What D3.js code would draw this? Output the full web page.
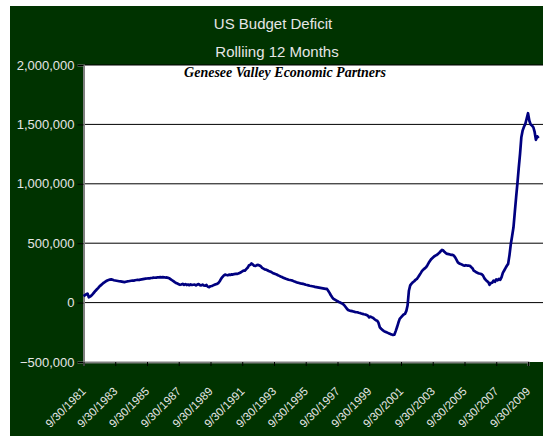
<!DOCTYPE html>
<html>
<head>
<meta charset="utf-8">
<script src="https://cdn.jsdelivr.net/npm/d3@7"></script>
<style>
  body { margin: 0; background: #fff; }
  svg { display: block; font-family: "Liberation Sans", Arial, sans-serif; }
</style>
</head>
<body>
<div id="chart"></div>
<script>
let chart_width = 543;
let chart_height = 436;

// rolling 12 month deficit, $ billions, one value per month starting Sep 1981
let startYear = 1981;
let startMonth = 8; // september
let deficitBillions = [
  55, 62, 70, 76, 45, 50, 60, 72, 85, 98, 110, 122,
  135, 145, 155, 165, 172, 180, 186, 190, 194, 196, 192, 188,
  186, 184, 182, 180, 178, 176, 174, 172, 175, 178, 180, 182,
  184, 186, 185, 188, 190, 192, 190, 194, 196, 198, 200, 202,
  203, 205, 204, 207, 208, 210, 209, 211, 212, 213, 214, 212,
  214, 213, 211, 212, 208, 204, 196, 188, 180, 172, 165, 160,
  155, 150, 152, 158, 150, 156, 148, 152, 146, 153, 148, 150,
  152, 145, 152, 156, 147, 145, 151, 144, 142, 148, 133, 130,
  138, 140, 145, 150, 155, 158, 165, 180, 200, 215, 228, 236,
  232, 230, 235, 233, 238, 236, 240, 242, 241, 245, 250, 255,
  262, 270, 268, 282, 293, 312, 318, 330, 320, 310, 308, 316,
  318, 312, 306, 292, 286, 280, 278, 272, 266, 262, 257, 250,
  245, 240, 236, 230, 225, 220, 215, 210, 205, 200, 196, 192,
  190, 188, 185, 180, 176, 172, 168, 165, 162, 160, 158, 155,
  150, 148, 145, 142, 140, 138, 135, 132, 130, 128, 126, 124,
  122, 120, 118, 116, 115, 100, 82, 62, 45, 32, 25, 18,
  12, 5, 0, -5, -11, -20, -35, -50, -62, -66, -70, -72,
  -75, -78, -80, -81, -85, -88, -92, -95, -98, -100, -105, -110,
  -125, -118, -124, -130, -140, -148, -152, -170, -208, -220, -230, -240,
  -245, -250, -255, -260, -265, -268, -272, -270, -240, -208, -170, -137,
  -125, -112, -100, -95, -70, -25, 100, 145, 160, 171, 180, 192,
  199, 215, 232, 250, 269, 278, 288, 297, 315, 335, 352, 368,
  378, 388, 395, 401, 410, 420, 432, 444, 438, 425, 415, 410,
  408, 405, 402, 401, 395, 380, 360, 339, 330, 326, 320, 315,
  311, 315, 312, 311, 310, 300, 290, 269, 262, 255, 250, 245,
  243, 238, 228, 205, 192, 180, 172, 150, 165, 168, 185, 175,
  195, 188, 200, 192, 215, 250, 270, 290, 310, 326, 400, 494,
  560, 634, 760, 887, 1010, 1130, 1252, 1392, 1450, 1480, 1504, 1550,
  1594, 1530, 1500, 1490, 1476, 1440, 1370, 1400, 1385
];

// axis labels
let xTickYears = [1981, 1983, 1985, 1987, 1989, 1991, 1993, 1995, 1997, 1999, 2001, 2003, 2005, 2007, 2009];
let yTicks = [-500000, 0, 500000, 1000000, 1500000, 2000000];
let titleLines = ["US Budget Deficit", "Rolliing 12 Months"];
let watermark = "Genesee Valley Economic Partners";

// month end dates, values in $ millions like the original axis
let data = deficitBillions.map(function (v, i) {
  return { date: new Date(startYear, startMonth + i + 1, 0), value: v * 1000 };
});

let plot = { left: 83.5, top: 65, right: 545, bottom: 362 };

let svg = d3
  .select("#chart")
  .append("svg")
  .attr("width", chart_width)
  .attr("height", chart_height);

// dark green background
svg.append("rect")
  .attr("x", 10).attr("y", 6)
  .attr("width", chart_width - 10).attr("height", chart_height - 6)
  .attr("fill", "#003300");

let x = d3.scaleTime()
  .domain([new Date(1981, 8, 30), new Date(2009, 8, 30)])
  .range([plot.left, 528]);

let y = d3.scaleLinear()
  .domain([-500000, 2000000])
  .range([plot.bottom, plot.top]);

// plot area
svg.append("rect")
  .attr("x", plot.left).attr("y", plot.top)
  .attr("width", plot.right - plot.left).attr("height", plot.bottom - plot.top)
  .attr("fill", "#fff");

// gridlines
svg.append("g")
  .selectAll("line")
  .data(yTicks.slice(1))
  .enter()
  .append("line")
  .attr("x1", plot.left).attr("x2", plot.right)
  .attr("y1", function (d) { return y(d); })
  .attr("y2", function (d) { return y(d); })
  .attr("stroke", "#000")
  .attr("stroke-width", 1);

// y axis
let yAxis = svg.append("g")
  .attr("transform", "translate(" + plot.left + ",0)")
  .call(d3.axisLeft(y).tickValues(yTicks).tickSize(6).tickPadding(3).tickFormat(d3.format(",")));
yAxis.select(".domain").attr("stroke", "#808080").attr("stroke-width", 2);
yAxis.selectAll(".tick line").attr("stroke", "#000");
yAxis.selectAll(".tick text")
  .attr("fill", "#e6e6e6")
  .style("font-size", "13px")
  .style("font-family", "Liberation Sans, Arial, sans-serif");

// x axis
let xTickDates = xTickYears.map(function (yr) { return new Date(yr, 8, 30); });
let xAxis = svg.append("g")
  .attr("transform", "translate(0," + plot.bottom + ")")
  .call(d3.axisBottom(x).tickValues(xTickDates).tickSize(4).tickFormat(""));
xAxis.select(".domain").attr("stroke", "#808080").attr("stroke-width", 2);
xAxis.selectAll(".tick line").attr("stroke", "#000");

svg.append("g")
  .selectAll("text")
  .data(xTickDates)
  .enter()
  .append("text")
  .attr("transform", function (d) {
    return "translate(" + (x(d) + 3) + "," + 392 + ") rotate(-45)";
  })
  .attr("text-anchor", "end")
  .attr("fill", "#e6e6e6")
  .style("font-size", "11.5px")
  .text(d3.timeFormat("%-m/%-d/%Y"));

// the deficit line
let line = d3.line()
  .x(function (d) { return x(d.date); })
  .y(function (d) { return y(d.value); });

svg.append("path")
  .datum(data)
  .attr("d", line)
  .attr("fill", "none")
  .attr("stroke", "#000080")
  .attr("stroke-width", 2.7)
  .attr("stroke-linejoin", "round");

// title
svg.append("text")
  .attr("x", 273).attr("y", 29)
  .attr("text-anchor", "middle")
  .attr("fill", "#e6e6e6")
  .style("font-size", "15px")
  .text(titleLines[0]);
svg.append("text")
  .attr("x", 277).attr("y", 57)
  .attr("text-anchor", "middle")
  .attr("fill", "#e6e6e6")
  .style("font-size", "15px")
  .text(titleLines[1]);

// watermark
svg.append("text")
  .attr("x", 285).attr("y", 77)
  .attr("text-anchor", "middle")
  .attr("fill", "#000")
  .style("font-family", "Liberation Serif, serif")
  .style("font-style", "italic")
  .style("font-weight", "bold")
  .style("font-size", "14px")
  .text(watermark);
</script>
</body>
</html>
